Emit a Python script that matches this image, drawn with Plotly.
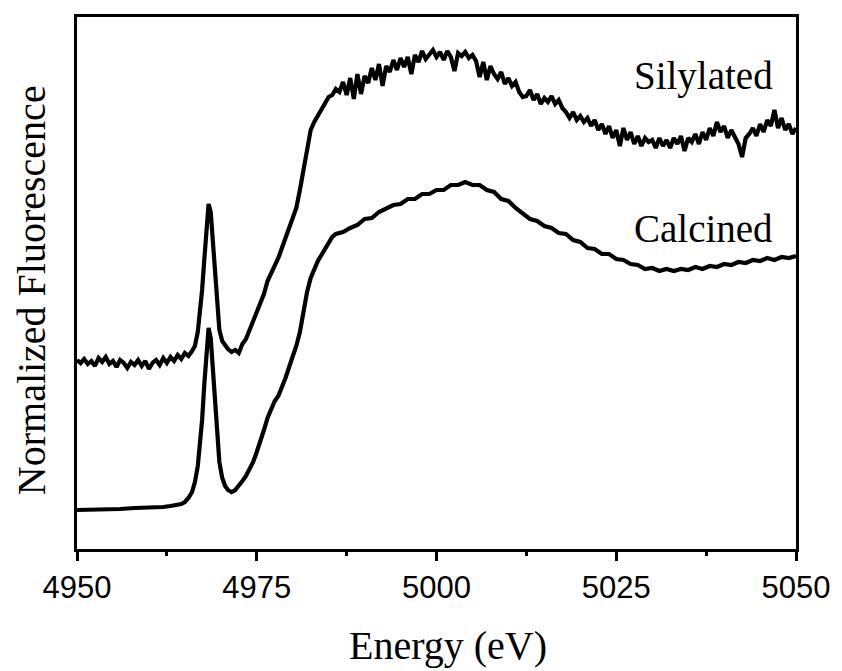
import plotly.graph_objects as go

# Energy grid (eV) and normalized fluorescence, Silylated sample
sil_energy = [
    4950, 4950.5, 4951, 4951.5, 4952, 4952.5, 4953, 4953.5, 4954, 4954.5,
    4955, 4955.5, 4956, 4956.5, 4957, 4957.5, 4958, 4958.5, 4959, 4959.5,
    4960, 4960.5, 4961, 4961.5, 4962, 4962.5, 4963, 4963.5, 4964, 4964.5,
    4965, 4965.5, 4966.0, 4966.4, 4966.8, 4967.1, 4967.4, 4967.7, 4968.0, 4968.3,
    4968.6, 4968.9, 4969.2, 4969.5, 4969.8, 4970.2, 4970.6, 4971.0, 4971.5, 4972.0,
    4972.5, 4973.0, 4973.5, 4974.0, 4974.5, 4975.0, 4975.5, 4976.0, 4976.5, 4977.0,
    4977.5, 4978.0, 4978.5, 4979.0, 4979.5, 4980.0, 4980.5, 4981.0, 4981.5, 4982.0,
    4982.5, 4983.0, 4983.5, 4984.0, 4984.5, 4985.0, 4985.5, 4986.0, 4986.5, 4987.0,
    4987.5, 4988.0, 4988.5, 4989.0, 4989.5, 4990.0, 4990.5, 4991.0, 4991.5, 4992.0,
    4992.5, 4993.0, 4993.5, 4994.0, 4994.5, 4995.0, 4995.5, 4996.0, 4996.5, 4997.0,
    4997.5, 4998.0, 4998.5, 4999.0, 4999.5, 5000.0, 5000.5, 5001.0, 5001.5, 5002.0,
    5002.5, 5003.0, 5003.5, 5004.0, 5004.5, 5005.0, 5005.5, 5006.0, 5006.5, 5007.0,
    5007.5, 5008.0, 5008.5, 5009.0, 5009.5, 5010.0, 5010.5, 5011.0, 5011.5, 5012.0,
    5012.5, 5013.0, 5013.5, 5014.0, 5014.5, 5015.0, 5015.5, 5016.0, 5016.5, 5017.0,
    5017.5, 5018.0, 5018.5, 5019.0, 5019.5, 5020.0, 5020.5, 5021.0, 5021.5, 5022.0,
    5022.5, 5023.0, 5023.5, 5024.0, 5024.5, 5025.0, 5025.5, 5026.0, 5026.5, 5027.0,
    5027.5, 5028.0, 5028.5, 5029.0, 5029.5, 5030.0, 5030.5, 5031.0, 5031.5, 5032.0,
    5032.5, 5033.0, 5033.5, 5034.0, 5034.5, 5035.0, 5035.5, 5036.0, 5036.5, 5037.0,
    5037.5, 5038.0, 5038.5, 5039.0, 5039.5, 5040.0, 5040.5, 5041.0, 5041.5, 5042.0,
    5042.5, 5043.0, 5043.5, 5044.0, 5044.5, 5045.0, 5045.5, 5046.0, 5046.5, 5047.0,
    5047.5, 5048.0, 5048.5, 5049.0, 5049.5, 5050.0,
]
sil_signal = [
    1.89, 1.86, 1.90, 1.85, 1.88, 1.83, 1.91, 1.87, 1.92, 1.85,
    1.88, 1.82, 1.89, 1.86, 1.81, 1.87, 1.84, 1.89, 1.83, 1.88,
    1.80, 1.86, 1.89, 1.84, 1.91, 1.86, 1.92, 1.88, 1.94, 1.90,
    1.96, 1.93, 1.98, 2.03, 2.17, 2.37, 2.59, 2.89, 3.17, 3.45,
    3.37, 3.09, 2.74, 2.42, 2.19, 2.08, 2.03, 2.00, 1.97, 1.99,
    1.96, 2.05, 2.10, 2.19, 2.26, 2.36, 2.45, 2.55, 2.68, 2.75,
    2.84, 2.91, 3.01, 3.11, 3.19, 3.29, 3.41, 3.59, 3.81, 4.03,
    4.19, 4.27, 4.33, 4.41, 4.45, 4.52, 4.54, 4.60, 4.57, 4.67,
    4.54, 4.71, 4.50, 4.75, 4.55, 4.73, 4.66, 4.81, 4.69, 4.85,
    4.63, 4.83, 4.77, 4.89, 4.79, 4.91, 4.82, 4.92, 4.75, 4.94,
    4.87, 4.98, 4.90, 4.95, 4.99, 4.92, 4.97, 4.89, 4.98, 4.92,
    4.78, 4.96, 4.93, 4.97, 4.91, 4.94, 4.88, 4.72, 4.87, 4.69,
    4.83, 4.75, 4.70, 4.77, 4.65, 4.71, 4.63, 4.67, 4.57, 4.52,
    4.53, 4.59, 4.49, 4.55, 4.45, 4.51, 4.47, 4.53, 4.45, 4.49,
    4.41, 4.37, 4.31, 4.37, 4.29, 4.33, 4.27, 4.31, 4.23, 4.29,
    4.19, 4.25, 4.15, 4.23, 4.11, 4.19, 4.03, 4.21, 4.09, 4.17,
    4.05, 4.13, 4.03, 4.11, 4.07, 4.09, 4.01, 4.11, 4.03, 4.09,
    4.01, 4.11, 4.05, 4.13, 3.98, 4.11, 4.07, 4.15, 4.05, 4.17,
    4.09, 4.21, 4.13, 4.27, 4.17, 4.23, 4.11, 4.19, 4.13, 4.05,
    3.92, 4.11, 4.15, 4.21, 4.13, 4.25, 4.17, 4.29, 4.23, 4.39,
    4.21, 4.31, 4.19, 4.25, 4.15, 4.21,
]

# Calcined sample
cal_energy = [
    4950, 4952, 4954, 4956, 4958, 4960, 4961, 4962, 4963, 4964,
    4964.5, 4965.0, 4965.5, 4966.0, 4966.4, 4966.8, 4967.1, 4967.4, 4967.7, 4968.0,
    4968.3, 4968.6, 4968.9, 4969.2, 4969.5, 4969.8, 4970.2, 4970.6, 4971.0, 4971.5,
    4972.0, 4972.5, 4973.0, 4973.5, 4974.0, 4974.5, 4975.0, 4975.5, 4976.0, 4976.5,
    4977.0, 4977.5, 4978.0, 4978.5, 4979.0, 4979.5, 4980.0, 4980.5, 4981.0, 4981.5,
    4982.0, 4982.5, 4983.0, 4983.5, 4984.0, 4984.5, 4985.0, 4985.5, 4986.0, 4986.5,
    4987, 4988, 4989, 4990, 4991, 4992, 4993, 4994, 4995, 4996,
    4997, 4998, 4999, 5000, 5001, 5002, 5003, 5004, 5005, 5006,
    5007, 5008, 5009, 5010, 5011, 5012, 5013, 5014, 5015, 5016,
    5017, 5018, 5019, 5020, 5021, 5022, 5023, 5024, 5025, 5026,
    5027, 5028, 5029, 5030, 5031, 5032, 5033, 5034, 5035, 5036,
    5037, 5038, 5039, 5040, 5041, 5042, 5043, 5044, 5045, 5046,
    5047, 5048, 5049, 5050,
]
cal_signal = [
    0.39, 0.39, 0.40, 0.40, 0.41, 0.41, 0.42, 0.42, 0.43, 0.44,
    0.45, 0.47, 0.51, 0.57, 0.67, 0.83, 1.03, 1.29, 1.64, 1.99,
    2.21, 2.11, 1.79, 1.39, 1.07, 0.87, 0.71, 0.63, 0.59, 0.57,
    0.59, 0.63, 0.68, 0.73, 0.79, 0.87, 0.97, 1.07, 1.19, 1.31,
    1.41, 1.48, 1.53, 1.61, 1.71, 1.82, 1.92, 2.03, 2.17, 2.39,
    2.57, 2.71, 2.81, 2.88, 2.94, 3.00, 3.06, 3.12, 3.15, 3.16,
    3.17, 3.21, 3.24, 3.30, 3.31, 3.37, 3.40, 3.44, 3.45, 3.50,
    3.50, 3.55, 3.55, 3.59, 3.59, 3.64, 3.64, 3.67, 3.64, 3.64,
    3.59, 3.57, 3.50, 3.48, 3.41, 3.36, 3.30, 3.28, 3.23, 3.21,
    3.16, 3.15, 3.09, 3.07, 3.01, 3.00, 2.95, 2.95, 2.90, 2.89,
    2.85, 2.84, 2.80, 2.81, 2.78, 2.80, 2.78, 2.80, 2.79, 2.82,
    2.80, 2.83, 2.82, 2.85, 2.84, 2.87, 2.86, 2.89, 2.88, 2.91,
    2.89, 2.92, 2.91, 2.93,
]

x_ticks = [4950, 4975, 5000, 5025, 5050]
labels = ["Silylated", "Calcined"]
label_x = [5037.1, 5037.1]
label_y = [4.73, 3.21]

serif = "Liberation Serif, Times New Roman, serif"
sans = "Liberation Sans, Arial, sans-serif"

fig = go.Figure()
fig.add_trace(go.Scatter(x=sil_energy, y=sil_signal, mode="lines",
                         line=dict(color="black", width=4.2), name=labels[0]))
fig.add_trace(go.Scatter(x=cal_energy, y=cal_signal, mode="lines",
                         line=dict(color="black", width=4.2), name=labels[1]))

for t, xx, yy in zip(labels, label_x, label_y):
    fig.add_annotation(x=xx, y=yy, text=t, showarrow=False, xanchor="center",
                       yanchor="middle", font=dict(family=serif, size=39, color="black"))

# Axis titles as paper-positioned annotations
fig.add_annotation(xref="paper", yref="paper", x=0.516, y=-0.1805,
                   text="Energy (eV)", showarrow=False, xanchor="center", yanchor="middle",
                   font=dict(family=serif, size=40, color="black"))
fig.add_annotation(xref="paper", yref="paper", x=-0.0622, y=0.487,
                   text="Normalized Fluorescence", showarrow=False, textangle=-90,
                   xanchor="center", yanchor="middle",
                   font=dict(family=serif, size=40, color="black"))

fig.update_layout(
    width=842, height=671,
    margin=dict(l=77, r=42, t=17, b=122),
    paper_bgcolor="white", plot_bgcolor="white",
    showlegend=False,
    xaxis=dict(
        range=[4950, 5050], tickvals=x_ticks, ticktext=[str(v) for v in x_ticks],
        showgrid=False, zeroline=False,
        showline=True, linecolor="black", linewidth=3, mirror=True,
        ticks="outside", ticklen=9, tickwidth=3, tickcolor="black",
        minor=dict(tickvals=[4962.5, 4987.5, 5012.5, 5037.5], ticks="outside",
                   ticklen=4, tickwidth=3, tickcolor="black"),
        tickfont=dict(family=sans, size=31, color="black"),
    ),
    yaxis=dict(
        range=[0, 5.32], showgrid=False, zeroline=False, showticklabels=False,
        showline=True, linecolor="black", linewidth=3, mirror=True, ticks="",
    ),
)

fig.write_html("out.html")
